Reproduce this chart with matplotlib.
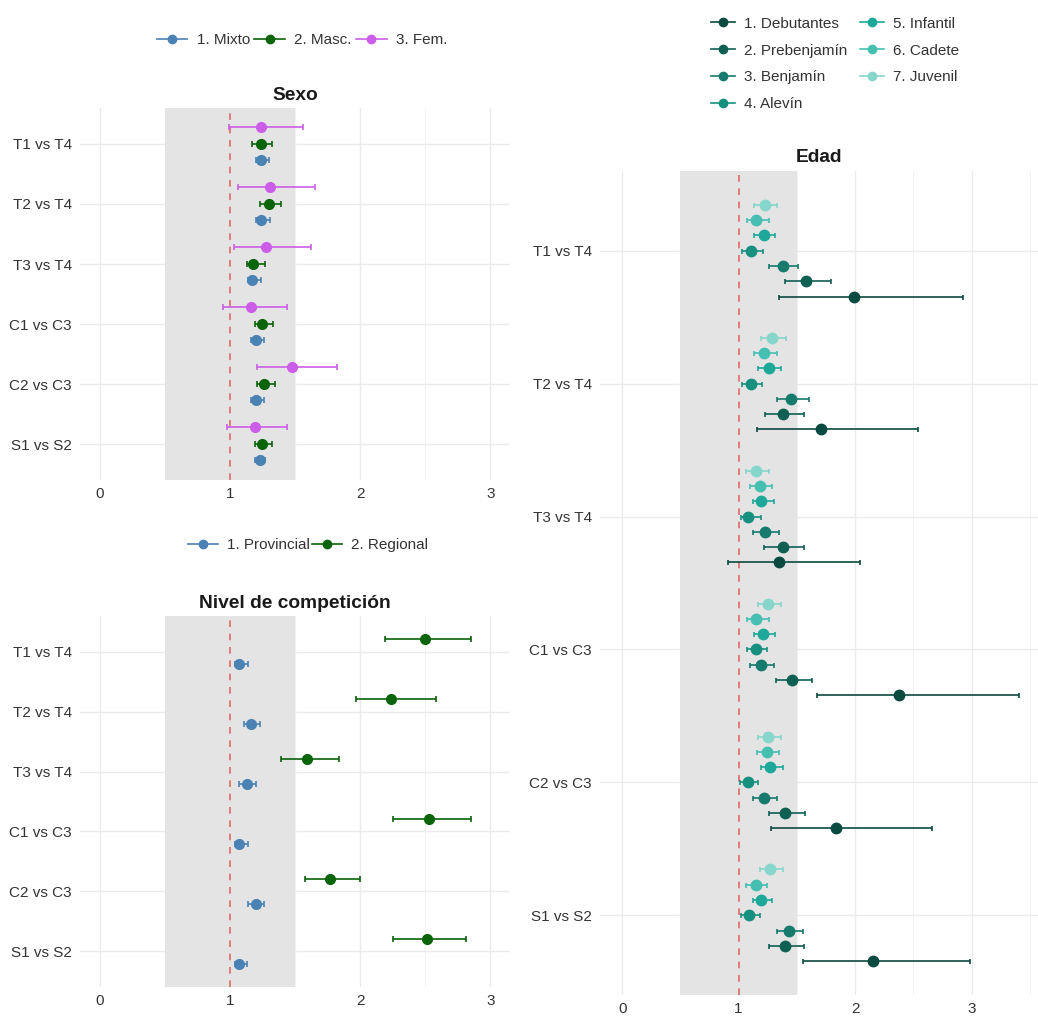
import matplotlib
matplotlib.use("Agg")
import matplotlib.pyplot as plt
from matplotlib.lines import Line2D
import numpy as np

plt.rcParams['font.family'] = ['Liberation Sans', 'DejaVu Sans']

comparisons = ["T1 vs T4", "T2 vs T4", "T3 vs T4", "C1 vs C3", "C2 vs C3", "S1 vs S2"]

# ---- Sexo ----
sexo_groups = ["1. Mixto", "2. Masc.", "3. Fem."]
sexo_colors = ["#4A82B4", "#0A640A", "#CC5DE8"]
sexo_mixto_est = [1.24, 1.24, 1.17, 1.20, 1.20, 1.23]
sexo_mixto_lo = [1.20, 1.20, 1.14, 1.16, 1.16, 1.19]
sexo_mixto_hi = [1.30, 1.31, 1.24, 1.26, 1.26, 1.27]
sexo_masc_est = [1.24, 1.30, 1.18, 1.25, 1.26, 1.25]
sexo_masc_lo = [1.17, 1.23, 1.13, 1.19, 1.21, 1.19]
sexo_masc_hi = [1.32, 1.39, 1.27, 1.33, 1.35, 1.32]
sexo_fem_est = [1.24, 1.31, 1.28, 1.16, 1.48, 1.19]
sexo_fem_lo = [0.99, 1.06, 1.03, 0.95, 1.21, 0.98]
sexo_fem_hi = [1.56, 1.65, 1.62, 1.44, 1.82, 1.44]

# ---- Nivel de competición ----
nivel_groups = ["1. Provincial", "2. Regional"]
nivel_colors = ["#4A82B4", "#0A640A"]
nivel_prov_est = [1.07, 1.16, 1.13, 1.07, 1.20, 1.07]
nivel_prov_lo = [1.04, 1.11, 1.07, 1.04, 1.14, 1.04]
nivel_prov_hi = [1.14, 1.23, 1.20, 1.14, 1.26, 1.13]
nivel_reg_est = [2.50, 2.24, 1.59, 2.53, 1.77, 2.51]
nivel_reg_lo = [2.19, 1.97, 1.39, 2.25, 1.58, 2.25]
nivel_reg_hi = [2.85, 2.58, 1.84, 2.85, 2.00, 2.81]

# ---- Edad ----
edad_groups = ["1. Debutantes", "2. Prebenjamín", "3. Benjamín", "4. Alevín",
               "5. Infantil", "6. Cadete", "7. Juvenil"]
edad_colors = ["#0B4A40", "#0F5F53", "#167A6C", "#17907F", "#1EA89A", "#45BFB2", "#86D6CB"]
edad_est = [
    [1.99, 1.71, 1.35, 2.38, 1.84, 2.15],  # Debutantes
    [1.58, 1.38, 1.38, 1.46, 1.40, 1.40],  # Prebenjamín
    [1.38, 1.45, 1.23, 1.19, 1.22, 1.43],  # Benjamín
    [1.11, 1.11, 1.08, 1.15, 1.08, 1.09],  # Alevín
    [1.22, 1.26, 1.19, 1.21, 1.27, 1.19],  # Infantil
    [1.15, 1.22, 1.18, 1.15, 1.24, 1.15],  # Cadete
    [1.23, 1.29, 1.15, 1.25, 1.25, 1.27],  # Juvenil
]
edad_lo = [
    [1.35, 1.16, 0.91, 1.67, 1.28, 1.55],
    [1.40, 1.23, 1.22, 1.32, 1.26, 1.26],
    [1.26, 1.33, 1.12, 1.10, 1.12, 1.33],
    [1.03, 1.03, 1.02, 1.07, 1.01, 1.02],
    [1.13, 1.17, 1.12, 1.13, 1.19, 1.12],
    [1.07, 1.13, 1.10, 1.07, 1.16, 1.06],
    [1.13, 1.19, 1.06, 1.17, 1.17, 1.18],
]
edad_hi = [
    [2.93, 2.54, 2.04, 3.41, 2.66, 2.99],
    [1.79, 1.56, 1.56, 1.63, 1.57, 1.56],
    [1.51, 1.60, 1.35, 1.30, 1.33, 1.55],
    [1.21, 1.20, 1.19, 1.24, 1.17, 1.18],
    [1.31, 1.36, 1.30, 1.31, 1.38, 1.29],
    [1.26, 1.33, 1.29, 1.26, 1.35, 1.24],
    [1.33, 1.41, 1.26, 1.36, 1.36, 1.38],
]

x_ticks = [0, 1, 2, 3]

W, H = 1038, 1017
fig = plt.figure(figsize=(W / 100, H / 100), dpi=100)
fig.patch.set_facecolor("white")


def px_axes(left, top, right, bottom):
    return fig.add_axes([left / W, 1 - bottom / H, (right - left) / W, (bottom - top) / H])


def style_axes(ax, xlim, minor):
    ax.set_facecolor("white")
    ax.set_xlim(*xlim)
    ax.set_ylim(5.6, -0.6)
    ax.set_yticks(range(len(comparisons)))
    ax.set_yticklabels(comparisons)
    ax.set_xticks(x_ticks)
    ax.set_xticks(minor, minor=True)
    for s in ax.spines.values():
        s.set_visible(False)
    ax.tick_params(axis="both", which="both", length=0, labelsize=11, labelcolor="#333333")
    ax.tick_params(axis="x", pad=5)
    ax.tick_params(axis="y", pad=6)
    ax.set_axisbelow(True)
    ax.grid(True, which="major", color="#EBEBEB", linewidth=1.0)
    ax.grid(True, which="minor", axis="x", color="#F2F2F2", linewidth=0.8)
    ax.axvspan(0.5, 1.5, color="#E4E4E4", zorder=1, lw=0)
    ax.axvline(1, color="#E06A6A", ls=(0, (4, 4)), lw=1.2, zorder=2)


def draw_series(ax, est, lo, hi, color, offset, ms=7.0, cap=2.0):
    y = np.arange(len(est)) + offset
    est = np.array(est)
    err = [est - np.array(lo), np.array(hi) - est]
    ax.errorbar(est, y, xerr=err, fmt="o", color=color, ms=ms, capsize=cap,
                elinewidth=1.2, capthick=1.2, zorder=3)


def legend_handles(labels, colors):
    return [Line2D([0], [0], color=c, marker="o", ms=6, lw=1.2) for c in colors], labels


# Sexo panel
ax1 = px_axes(80, 108, 510, 480)
style_axes(ax1, (-0.15, 3.15), [0.5, 1.5, 2.5])
sexo_data = [(sexo_mixto_est, sexo_mixto_lo, sexo_mixto_hi),
             (sexo_masc_est, sexo_masc_lo, sexo_masc_hi),
             (sexo_fem_est, sexo_fem_lo, sexo_fem_hi)]
sexo_offsets = [0.26, 0.0, -0.28]
for (e, l, h), c, o in zip(sexo_data, sexo_colors, sexo_offsets):
    draw_series(ax1, e, l, h, c, o)
fig.text(295 / W, 1 - 95 / H, "Sexo", ha="center", va="center", fontsize=13.8, fontweight="bold", color="#1a1a1a")
hh, ll = legend_handles(sexo_groups, sexo_colors)
fig.legend(hh, ll, loc="center", bbox_to_anchor=(302 / W, 1 - 40 / H), ncol=3, frameon=False,
           fontsize=11, handlelength=2.0, columnspacing=0.3, handletextpad=0.6, labelcolor="#333333")

# Nivel panel
ax2 = px_axes(80, 616, 510, 987)
style_axes(ax2, (-0.15, 3.15), [0.5, 1.5, 2.5])
nivel_data = [(nivel_prov_est, nivel_prov_lo, nivel_prov_hi),
              (nivel_reg_est, nivel_reg_lo, nivel_reg_hi)]
nivel_offsets = [0.21, -0.21]
for (e, l, h), c, o in zip(nivel_data, nivel_colors, nivel_offsets):
    draw_series(ax2, e, l, h, c, o)
fig.text(295 / W, 1 - 603 / H, "Nivel de competición", ha="center", va="center", fontsize=13.8,
         fontweight="bold", color="#1a1a1a")
hh, ll = legend_handles(nivel_groups, nivel_colors)
fig.legend(hh, ll, loc="center", bbox_to_anchor=(308 / W, 1 - 545 / H), ncol=2, frameon=False,
           fontsize=11, handlelength=2.0, columnspacing=0.1, handletextpad=0.6, labelcolor="#333333")

# Edad panel
ax3 = px_axes(600, 171, 1038, 995)
style_axes(ax3, (-0.19, 3.57), [0.5, 1.5, 2.5, 3.5])
edad_offsets = [0.345, 0.23, 0.115, 0.0, -0.115, -0.23, -0.345]
for e, l, h, c, o in zip(edad_est, edad_lo, edad_hi, edad_colors, edad_offsets):
    draw_series(ax3, e, l, h, c, o, ms=7.5, cap=1.8)
fig.text(819 / W, 1 - 158 / H, "Edad", ha="center", va="center", fontsize=13.8, fontweight="bold", color="#1a1a1a")
hh, ll = legend_handles(edad_groups, edad_colors)
fig.legend(hh, ll, loc="center", bbox_to_anchor=(835 / W, 1 - 64 / H), ncol=2, frameon=False,
           fontsize=11, handlelength=1.6, columnspacing=0.8, handletextpad=0.6, labelspacing=0.85,
           labelcolor="#333333")

fig.savefig("out.png", dpi=100, facecolor="white")
